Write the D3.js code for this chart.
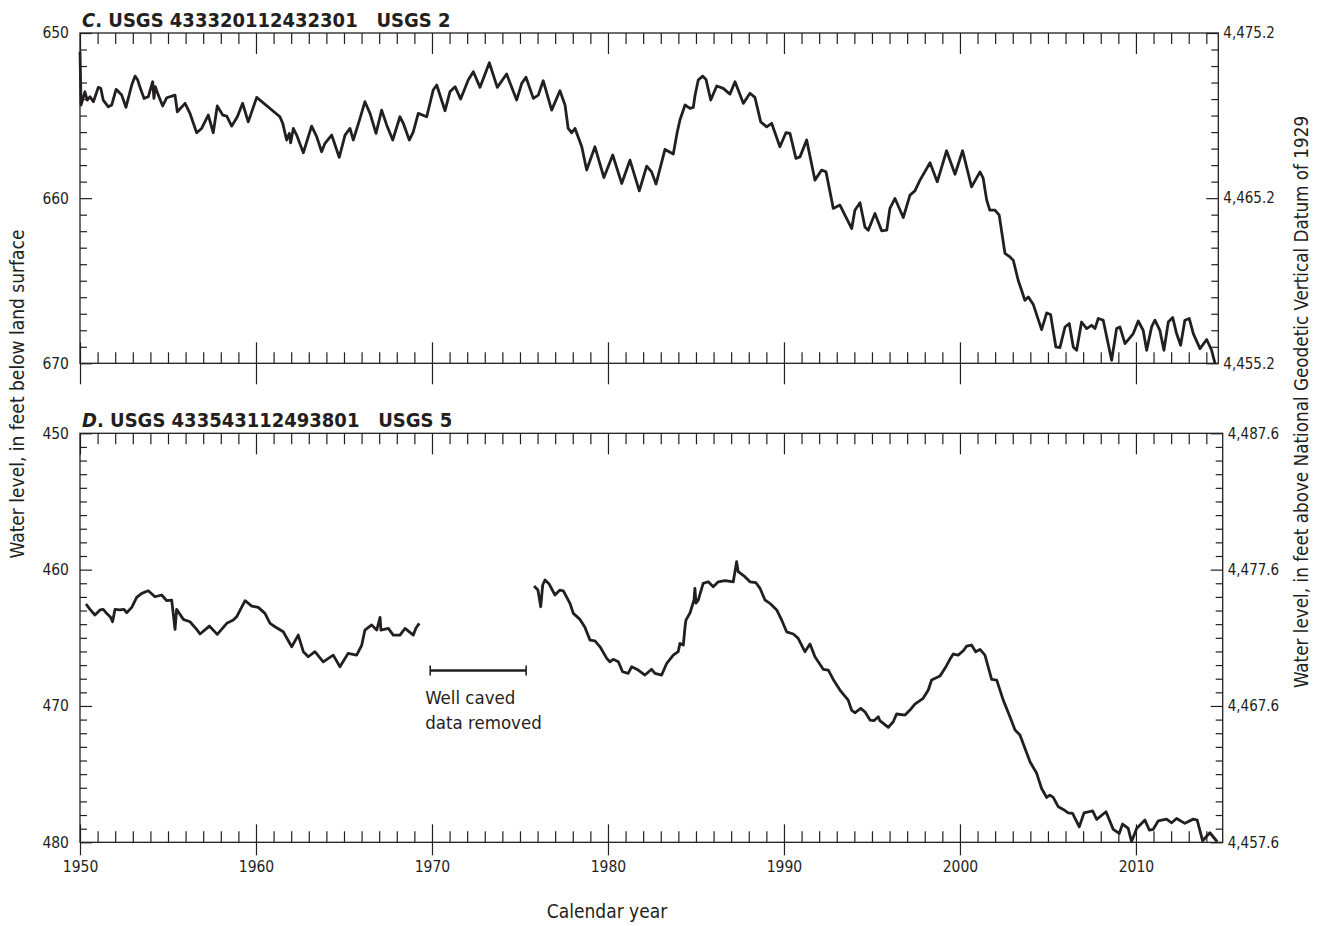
<!DOCTYPE html>
<html>
<head>
<meta charset="utf-8">
<script src="https://cdn.jsdelivr.net/npm/d3@7"></script>
<style>
  body { margin: 0; background: #fff; }
  svg text { font-family: "Liberation Sans Narrow", "DejaVu Sans Condensed", "Roboto", sans-serif; fill: #231f20; }
</style>
</head>
<body>
<svg id="chart" width="1330" height="926"></svg>
<script>
// ---- Well C: USGS 433320112432301 (USGS 2), depth to water, ft below land surface ----
const yearsC = [1950.00,1950.06,1950.28,1950.41,1950.57,1950.76,1951.04,1951.18,1951.32,1951.61,1951.80,1952.05,1952.37,1952.61,1952.94,1953.13,1953.28,1953.41,1953.64,1953.88,1954.13,1954.20,1954.28,1954.45,1954.70,1954.93,1955.40,1955.53,1955.97,1956.25,1956.63,1956.91,1957.29,1957.57,1957.80,1958.11,1958.34,1958.62,1958.94,1959.24,1959.56,1960.04,1961.36,1961.52,1961.74,1961.89,1961.97,1962.12,1962.31,1962.69,1963.16,1963.45,1963.73,1963.92,1964.30,1964.73,1965.06,1965.34,1965.53,1965.91,1966.19,1966.48,1966.82,1967.14,1967.43,1967.77,1968.18,1968.37,1968.71,1968.94,1969.22,1969.70,1970.07,1970.27,1970.74,1971.02,1971.31,1971.63,1972.06,1972.35,1972.73,1973.26,1973.71,1974.24,1974.43,1974.81,1975.10,1975.34,1975.76,1976.04,1976.32,1976.80,1977.27,1977.56,1977.74,1977.94,1978.13,1978.51,1978.79,1979.26,1979.77,1980.27,1980.78,1981.25,1981.78,1982.20,1982.48,1982.73,1983.24,1983.71,1983.94,1984.09,1984.38,1984.66,1984.85,1984.94,1985.13,1985.38,1985.57,1985.84,1986.18,1986.55,1986.93,1987.22,1987.69,1988.07,1988.35,1988.68,1989.02,1989.30,1989.77,1990.11,1990.34,1990.68,1990.91,1991.29,1991.76,1992.14,1992.39,1992.71,1992.80,1993.18,1993.85,1994.03,1994.32,1994.60,1994.79,1995.17,1995.55,1995.84,1996.02,1996.31,1996.78,1997.16,1997.44,1997.73,1998.30,1998.71,1999.24,1999.72,2000.15,2000.66,2001.14,2001.32,2001.52,2001.70,2001.99,2002.23,2002.56,2002.84,2003.03,2003.31,2003.69,2003.88,2004.16,2004.64,2004.93,2005.15,2005.45,2005.68,2005.97,2006.21,2006.44,2006.63,2006.91,2007.20,2007.48,2007.67,2007.86,2008.14,2008.62,2008.90,2009.09,2009.38,2009.85,2010.13,2010.41,2010.61,2010.89,2011.08,2011.36,2011.59,2011.84,2012.09,2012.31,2012.54,2012.78,2013.03,2013.26,2013.64,2014.02,2014.30,2014.49];
const levelsC = [651.13,654.36,653.56,654.06,653.86,654.16,653.29,653.35,654.06,654.47,654.36,653.41,653.76,654.50,653.15,652.61,652.85,653.29,653.96,653.86,652.95,653.96,653.25,653.76,654.42,653.92,653.76,654.77,654.26,654.87,656.04,655.78,654.97,656.04,654.42,654.97,655.03,655.64,655.07,654.26,655.38,653.90,655.07,655.47,656.48,656.08,656.65,655.78,656.18,657.25,655.64,656.28,657.19,656.68,656.18,657.53,656.18,655.78,656.48,655.17,654.16,654.87,656.08,654.67,655.58,656.48,655.07,655.47,656.48,655.98,654.87,655.07,653.45,653.15,654.71,653.56,653.25,654.00,652.85,652.35,653.29,651.80,653.29,652.48,653.01,654.06,653.05,652.68,653.96,653.76,652.89,654.67,653.50,654.36,655.78,656.04,655.78,656.89,658.30,656.89,658.75,657.39,659.11,657.70,659.56,658.06,658.41,659.15,657.05,657.33,655.98,655.27,654.36,654.56,654.50,653.82,652.85,652.61,652.81,654.06,653.21,653.35,653.70,652.95,654.26,653.65,653.90,655.38,655.68,655.47,656.89,656.04,656.08,657.59,657.50,656.48,658.91,658.30,658.41,660.12,660.62,660.42,661.84,660.73,660.28,661.74,661.94,660.93,661.98,661.94,660.62,660.02,661.17,659.82,659.56,658.91,657.86,659.01,657.13,658.55,657.13,659.32,658.41,658.79,660.12,660.73,660.73,661.03,663.35,663.56,663.76,664.97,666.18,665.98,666.42,667.96,666.95,667.05,669.01,669.05,667.80,667.59,669.01,669.21,667.50,667.90,667.70,667.90,667.29,667.39,669.82,667.90,667.80,668.81,668.20,667.44,668.00,669.21,667.80,667.39,668.00,669.21,667.50,667.23,668.20,668.91,667.39,667.29,668.20,669.11,668.56,669.21,670.00];

// ---- Well D: USGS 433543112493801 (USGS 5), record before the well caved ----
const yearsD1 = [1950.34,1950.57,1950.85,1951.14,1951.32,1951.55,1951.74,1951.85,1951.99,1952.27,1952.50,1952.65,1952.94,1953.22,1953.51,1953.88,1954.26,1954.64,1954.93,1955.21,1955.40,1955.49,1955.87,1956.25,1956.63,1956.82,1957.35,1957.80,1958.34,1958.71,1958.90,1959.38,1959.76,1960.13,1960.51,1960.80,1961.08,1961.55,1962.03,1962.40,1962.69,1962.97,1963.35,1963.82,1964.39,1964.77,1965.24,1965.72,1966.01,1966.19,1966.57,1966.86,1967.05,1967.10,1967.52,1967.80,1968.18,1968.47,1968.94,1969.09,1969.28];
const levelsD1 = [462.52,462.91,463.33,462.96,462.91,463.26,463.50,463.82,462.91,462.96,462.91,463.16,462.77,462.03,461.74,461.55,461.99,461.86,462.28,462.23,464.38,462.91,463.65,463.82,464.38,464.72,464.14,464.75,463.94,463.70,463.46,462.28,462.67,462.77,463.21,463.94,464.19,464.56,465.66,464.80,466.02,466.39,466.02,466.76,466.27,467.12,466.14,466.27,465.53,464.43,464.06,464.43,463.50,464.43,464.31,464.80,464.80,464.31,464.80,464.28,463.94];

// ---- Well D: record after the well was reconditioned ----
const yearsD2 = [1975.80,1976.02,1976.18,1976.29,1976.42,1976.66,1976.99,1977.27,1977.46,1977.84,1978.03,1978.41,1978.69,1978.75,1978.98,1979.26,1979.55,1979.93,1980.11,1980.30,1980.59,1980.83,1981.15,1981.35,1981.72,1982.10,1982.48,1982.67,1983.05,1983.34,1983.71,1983.99,1984.09,1984.28,1984.38,1984.43,1984.66,1984.89,1984.94,1985.00,1985.13,1985.41,1985.70,1985.98,1986.27,1986.65,1987.12,1987.31,1987.40,1987.78,1988.07,1988.41,1988.64,1988.92,1989.20,1989.59,1989.87,1990.15,1990.53,1990.80,1991.19,1991.48,1991.76,1992.23,1992.52,1992.80,1993.18,1993.65,1993.84,1994.03,1994.36,1994.60,1994.89,1995.11,1995.36,1995.45,1995.93,1996.21,1996.40,1996.88,1997.16,1997.44,1997.91,1998.20,1998.39,1998.86,1999.15,1999.43,1999.62,1999.90,2000.19,2000.38,2000.66,2000.89,2001.14,2001.42,2001.80,2002.09,2002.46,2002.84,2003.13,2003.41,2003.98,2004.36,2004.64,2004.93,2005.11,2005.30,2005.59,2005.87,2006.15,2006.40,2006.78,2007.05,2007.54,2007.77,2008.30,2008.71,2009.05,2009.24,2009.56,2009.75,2010.04,2010.51,2010.76,2010.98,2011.27,2011.74,2012.03,2012.31,2012.78,2013.26,2013.48,2013.79,2014.20,2014.62];
const levelsD2 = [461.20,461.50,462.72,461.13,460.76,461.06,461.86,461.50,461.55,462.47,463.21,463.65,464.23,464.43,465.17,465.22,465.66,466.51,466.76,466.58,466.76,467.49,467.61,467.12,467.37,467.73,467.31,467.61,467.73,466.87,466.27,466.02,465.41,465.53,464.19,463.70,463.18,462.23,461.37,462.45,462.23,461.01,460.89,461.25,460.89,460.81,460.89,459.42,460.15,460.52,460.89,460.96,461.37,462.23,462.47,462.96,463.70,464.56,464.72,465.02,466.02,465.46,466.39,467.31,467.37,468.05,468.83,469.57,470.30,470.50,470.18,470.43,471.03,471.08,470.79,471.08,471.57,471.16,470.59,470.67,470.30,469.86,469.44,468.83,468.10,467.81,467.24,466.58,466.19,466.27,465.95,465.61,465.53,466.02,465.85,466.27,468.05,468.10,469.57,470.79,471.77,472.13,474.09,474.94,476.05,476.71,476.54,476.71,477.40,477.59,477.84,477.88,478.86,477.84,477.69,478.32,477.76,479.05,479.35,478.66,478.98,479.96,478.98,478.37,479.10,479.05,478.42,478.30,478.57,478.25,478.61,478.30,478.37,479.89,479.30,479.96];

// ---- Axis values and labels ----
const decadeTicks = [1950, 1960, 1970, 1980, 1990, 2000, 2010];
const depthTicksC = [650, 660, 670];
const altitudeLabelsC = ["4,475.2", "4,465.2", "4,455.2"];
const depthTicksD = [450, 460, 470, 480];
const altitudeLabelsD = ["4,487.6", "4,477.6", "4,467.6", "4,457.6"];
const gapSpan = [1969.9, 1975.35];   // years with no usable record in well D
const gapLevel = 467.4;
const gapNote = ["Well caved", "data removed"];

const ink = "#231f20";
const svg = d3.select("#chart");

function panel(cfg) {
  const x = d3.scaleLinear().domain(cfg.xDomain).range(cfg.xRange);
  const y = d3.scaleLinear().domain(cfg.yDomain).range(cfg.yRange);
  const [x0, x1] = cfg.xRange, [y0, y1] = cfg.yRange;
  const g = svg.append("g");

  const lastYear = Math.floor(cfg.xDomain[1]);
  const minorYears = d3.range(cfg.xDomain[0] + 1, lastYear + 1).filter(v => v % 10 !== 0);
  const minorDepth = d3.range(cfg.yDomain[0] + 1, cfg.yDomain[1]).filter(v => v % 10 !== 0);

  const style = sel => {
    sel.select(".domain").remove();
    sel.selectAll(".tick line").attr("stroke", ink).attr("stroke-width", 1.2);
  };
  const add = (axis, tx, ty) => g.append("g").attr("transform", `translate(${tx},${ty})`).call(axis).call(style);

  // year ticks, pointing inward from top and bottom
  add(d3.axisBottom(x).tickValues(minorYears).tickSize(11).tickFormat(""), 0, y0);
  add(d3.axisBottom(x).tickValues(decadeTicks).tickSize(21).tickFormat(""), 0, y0);
  add(d3.axisTop(x).tickValues(minorYears).tickSize(11).tickFormat(""), 0, y1);
  add(d3.axisTop(x).tickValues(decadeTicks).tickSize(cfg.majorIn).tickFormat(""), 0, y1);
  const outer = add(d3.axisBottom(x).tickValues(decadeTicks).tickSize(cfg.majorOut).tickPadding(6)
    .tickFormat(cfg.yearLabels ? d3.format("d") : ""), 0, y1);
  outer.selectAll("text").attr("font-size", 15.5).attr("fill", ink);

  // depth ticks, pointing inward from left and right
  add(d3.axisRight(y).tickValues(minorDepth).tickSize(7).tickFormat(""), x0, 0);
  add(d3.axisRight(y).tickValues(cfg.depthTicks).tickSize(12).tickFormat(""), x0, 0);
  add(d3.axisLeft(y).tickValues(minorDepth).tickSize(7).tickFormat(""), x1, 0);
  add(d3.axisLeft(y).tickValues(cfg.depthTicks).tickSize(12).tickFormat(""), x1, 0);

  const leftLab = add(d3.axisLeft(y).tickValues(cfg.depthTicks).tickSize(0).tickPadding(11), x0, 0);
  leftLab.selectAll("text").attr("font-size", 15.5).attr("fill", ink);
  const rightLab = add(d3.axisRight(y).tickValues(cfg.depthTicks).tickSize(0).tickPadding(5)
    .tickFormat((d, i) => cfg.altLabels[i]), x1, 0);
  rightLab.selectAll("text").attr("font-size", 15).attr("fill", ink);

  // frame
  g.append("rect").attr("x", x0).attr("y", y0).attr("width", x1 - x0).attr("height", y1 - y0)
    .attr("fill", "none").attr("stroke", ink).attr("stroke-width", 1.3);

  // hydrograph
  const line = d3.line().x(d => x(d[0])).y(d => y(d[1]));
  cfg.series.forEach(s => {
    g.append("path").datum(d3.zip(s[0], s[1])).attr("d", line)
      .attr("fill", "none").attr("stroke", ink).attr("stroke-width", 2.8)
      .attr("stroke-linejoin", "round").attr("stroke-linecap", "butt");
  });

  // title
  const t = g.append("text").attr("x", x0 + 2).attr("y", y0 - 6)
    .attr("font-size", 20).attr("font-weight", "bold")
    .style("white-space", "pre");
  t.append("tspan").attr("font-style", "italic").text(cfg.letter);
  t.append("tspan").text(cfg.title);

  return { x, y, g };
}

panel({
  xDomain: [1950, 2014.68], xRange: [80, 1218.3],
  yDomain: [650, 670], yRange: [33, 363.3],
  depthTicks: depthTicksC, altLabels: altitudeLabelsC,
  majorIn: 21, majorOut: 21, yearLabels: false,
  series: [[yearsC, levelsC]],
  letter: "C", title: ". USGS 433320112432301   USGS 2"
});

const pD = panel({
  xDomain: [1950, 2014.93], xRange: [80, 1222.7],
  yDomain: [450, 480], yRange: [433.3, 842.3],
  depthTicks: depthTicksD, altLabels: altitudeLabelsD,
  majorIn: 18, majorOut: 13, yearLabels: true,
  series: [[yearsD1, levelsD1], [yearsD2, levelsD2]],
  letter: "D", title: ". USGS 433543112493801   USGS 5"
});

// gap annotation in well D
{
  const { x, y, g } = pD;
  const by = y(gapLevel), xa = x(gapSpan[0]), xb = x(gapSpan[1]);
  g.append("line").attr("x1", xa).attr("x2", xb).attr("y1", by).attr("y2", by)
    .attr("stroke", ink).attr("stroke-width", 2.6);
  [xa, xb].forEach(xx => g.append("line").attr("x1", xx).attr("x2", xx)
    .attr("y1", by - 5).attr("y2", by + 5).attr("stroke", ink).attr("stroke-width", 1.6));
  gapNote.forEach((s, i) => g.append("text").attr("x", xa - 5).attr("y", by + 33 + i * 25)
    .attr("font-size", 18.5).text(s));
}

// shared axis titles
svg.append("text").attr("transform", "translate(24,394) rotate(-90)")
  .attr("text-anchor", "middle").attr("font-size", 19)
  .text("Water level, in feet below land surface");
svg.append("text").attr("transform", "translate(1308,402) rotate(-90)")
  .attr("text-anchor", "middle").attr("font-size", 18.7)
  .text("Water level, in feet above National Geodetic Vertical Datum of 1929");
svg.append("text").attr("x", 607).attr("y", 918)
  .attr("text-anchor", "middle").attr("font-size", 19)
  .text("Calendar year");
</script>
</body>
</html>
